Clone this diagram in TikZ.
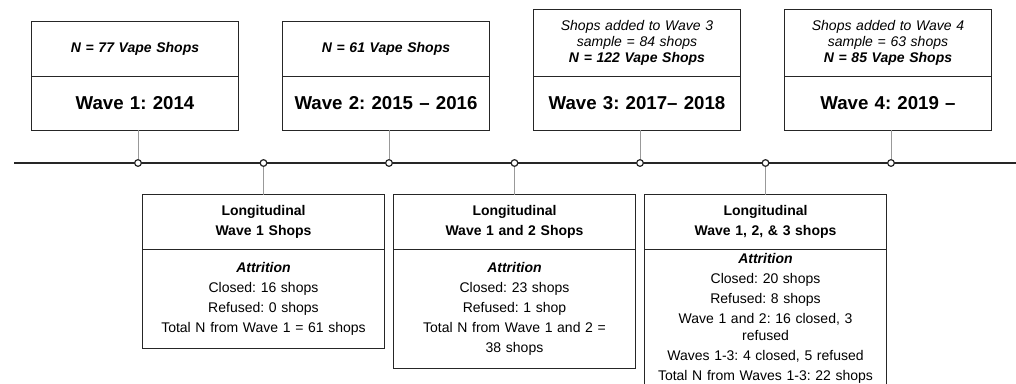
\documentclass[tikz,border=0pt]{standalone}
\usepackage{fontspec}
\setmainfont{Liberation Sans}
\frenchspacing
\usetikzlibrary{positioning}
\tikzstyle{dot} = [circle, draw=black!85, fill=white, line width=0.9pt, inner sep=0pt, minimum size=5pt]
\tikzstyle{box} = [rectangle, draw=black!85, line width=1.1pt, outer sep=0pt,
    align=center, inner xsep=2pt, inner ysep=2.5pt]
\tikzstyle{wavehead} = [box, text width=151.25pt, minimum height=41.25pt,
    font=\fontsize{10.5}{12}\selectfont\itshape]
\tikzstyle{wavelabel} = [box, text width=151.25pt, minimum height=40.5pt,
    font=\fontsize{14}{17}\selectfont\bfseries]
\tikzstyle{longhead} = [box, text width=177.5pt, minimum height=41.25pt,
    font=\fontsize{10.5}{15}\selectfont\bfseries]
\tikzstyle{longbody} = [box, text width=177.5pt, font=\fontsize{10.5}{15}\selectfont]
\tikzset{
  line/.style ={draw, black!40, line width=0.75pt}
}
\begin{document}
\begin{tikzpicture}[x=0.75pt, y=-0.75pt, node distance = 94.125pt]
   \useasboundingbox (0,0) rectangle (1016,383);
   \clip (0,0) rectangle (1016,383);
   % timeline
   \coordinate (tl_start) at (14,163);
   \coordinate (tl_end) at (1016,163);
   \draw [black!85, line width=1.5pt] (tl_start) -- (tl_end);
   \node [dot] (t1) at (138,163) {};
   \node [dot,right of=t1] (t2) {};
   \node [dot,right of=t2] (t3) {};
   \node [dot,right of=t3] (t4) {};
   \node [dot,right of=t4] (t5) {};
   \node [dot,right of=t5] (t6) {};
   \node [dot,right of=t6] (t7) {};
   % waves
   \node [wavelabel,above=21.5pt of t1,xshift=-2.25pt] (w1_label) {Wave 1: 2014};
   \node [wavehead,above=0pt of w1_label] (w1_head) {\textbf{N = 77 Vape Shops}};
   \node [wavelabel,above=21.5pt of t3,xshift=-2.25pt] (w2_label) {Wave 2: 2015 -- 2016};
   \node [wavehead,above=0pt of w2_label] (w2_head) {\textbf{N = 61 Vape Shops}};
   \node [wavelabel,above=21.5pt of t5,xshift=-2.25pt] (w3_label) {Wave 3: 2017-- 2018};
   \node [wavehead,above=0pt of w3_label,minimum height=50.25pt] (w3_head) {Shops added to Wave 3\\sample = 84 shops\\\textbf{N = 122 Vape Shops}};
   \node [wavelabel,above=21.5pt of t7,xshift=-2.25pt] (w4_label) {Wave 4: 2019 --};
   \node [wavehead,above=0pt of w4_label,minimum height=50.25pt] (w4_head) {Shops added to Wave 4\\sample = 63 shops\\\textbf{N = 85 Vape Shops}};
   % longitudinal samples
   \node [longhead,below=20.8pt of t2] (lg1_head) {Longitudinal\\Wave 1 Shops};
   \node [longbody,below=0pt of lg1_head,minimum height=74.25pt] (lg1_body) {\textbf{\textit{Attrition}}\\Closed: 16 shops\\Refused: 0 shops\\Total N from Wave 1 = 61 shops};
   \node [longhead,below=20.8pt of t4] (lg2_head) {Longitudinal\\Wave 1 and 2 Shops};
   \node [longbody,below=0pt of lg2_head,minimum height=89.25pt] (lg2_body) {\textbf{\textit{Attrition}}\\Closed: 23 shops\\Refused: 1 shop\\Total N from Wave 1 and 2 =\\38 shops};
   \node [longhead,below=20.8pt of t6] (lg3_head) {Longitudinal\\Wave 1, 2, \& 3 shops};
   \node [longbody,below=0pt of lg3_head] (lg3_body) {\textbf{\textit{Attrition}}\\Closed: 20 shops\\Refused: 8 shops\\Wave 1 and 2: 16 closed, 3\\[-2.25pt]refused\\Waves 1-3: 4 closed, 5 refused\\Total N from Waves 1-3: 22 shops};
   % connectors
   \path [line] (t1) -- (t1 |- w1_label.south);
   \path [line] (t3) -- (t3 |- w2_label.south);
   \path [line] (t5) -- (t5 |- w3_label.south);
   \path [line] (t7) -- (t7 |- w4_label.south);
   \path [line] (t2) -- (lg1_head);
   \path [line] (t4) -- (lg2_head);
   \path [line] (t6) -- (lg3_head);
\end{tikzpicture}
\end{document}
